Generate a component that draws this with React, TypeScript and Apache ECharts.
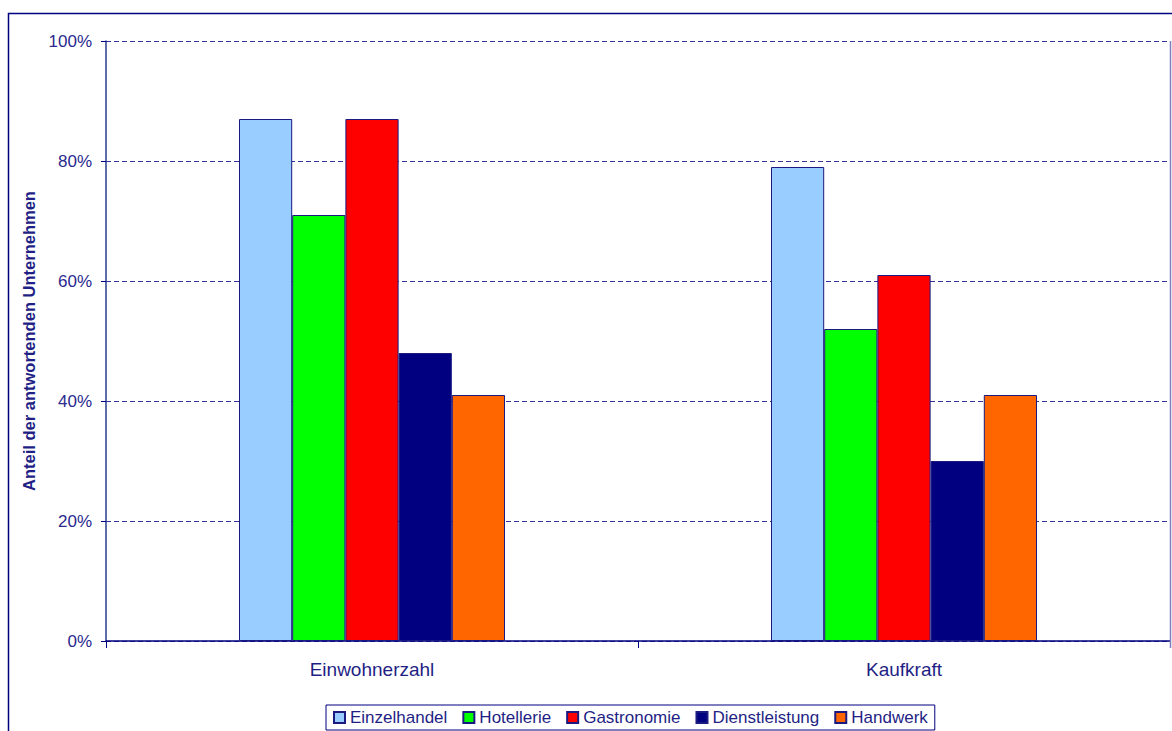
import React, { useEffect, useRef } from "react";
import * as echarts from "echarts";

// Survey: share of responding businesses per sector, by factor
const categories = ["Einwohnerzahl", "Kaufkraft"];
const sectors = ["Einzelhandel", "Hotellerie", "Gastronomie", "Dienstleistung", "Handwerk"];
const einzelhandel = [87, 79];
const hotellerie = [71, 52];
const gastronomie = [87, 61];
const dienstleistung = [48, 30];
const handwerk = [41, 41];
const sectorColors = ["#99CCFF", "#00FF00", "#FF0000", "#000080", "#FF6600"];
const yTicks = [0, 20, 40, 60, 80, 100];

const NAVY = "#000080";
const TEXT = "#1f1f85";
const FONT = "'Liberation Sans', Arial, Helvetica, sans-serif";

export default function App() {
  const ref = useRef<HTMLDivElement>(null);

  useEffect(() => {
    if (!ref.current) return;
    const chart = echarts.init(ref.current, undefined, { renderer: "svg" });
    const values = [einzelhandel, hotellerie, gastronomie, dienstleistung, handwerk];

    chart.setOption({
      animation: false,
      backgroundColor: "#ffffff",
      textStyle: { fontFamily: FONT },
      grid: { left: 106, right: 2, top: 41, bottom: 90, containLabel: false },
      legend: {
        data: sectors,
        left: 326,
        top: 705,
        orient: "horizontal",
        icon: "rect",
        itemWidth: 11,
        itemHeight: 11,
        itemGap: 15,
        padding: [4, 7, 4, 7],
        borderColor: NAVY,
        borderWidth: 1,
        textStyle: { color: TEXT, fontSize: 17, fontFamily: FONT },
      },
      xAxis: {
        type: "category",
        data: categories,
        axisLine: { show: true, lineStyle: { color: NAVY, width: 1.5 } },
        axisTick: { show: true, alignWithLabel: false, length: 7, lineStyle: { color: NAVY } },
        axisLabel: { color: TEXT, fontSize: 19, margin: 19, fontFamily: FONT },
        splitLine: { show: false },
      },
      yAxis: {
        type: "value",
        min: 0,
        max: 100,
        interval: 20,
        name: "Anteil der antwortenden Unternehmen",
        nameLocation: "middle",
        nameRotate: 90,
        nameGap: 59,
        nameTextStyle: { color: TEXT, fontSize: 16.5, fontWeight: "bold", fontFamily: FONT },
        axisLine: { show: true, lineStyle: { color: "#2b3a8c", width: 1.5 } },
        axisTick: { show: true, length: 5, lineStyle: { color: NAVY } },
        axisLabel: {
          color: "#2a2a8f",
          fontSize: 17,
          margin: 14,
          fontFamily: FONT,
          formatter: (v: number) => (yTicks.includes(v) ? `${v}%` : ""),
        },
        splitLine: { show: true, lineStyle: { color: "#333399", width: 1, type: [5, 3] } },
      },
      series: sectors.map((name, i) => ({
        name,
        type: "bar",
        data: values[i],
        barGap: "0%",
        barCategoryGap: "50%",
        itemStyle: { color: sectorColors[i], borderColor: "#1a1a80", borderWidth: 1 },
      })),
      graphic: [
        // outer chart frame
        {
          type: "rect",
          shape: { x: 8.5, y: 13.5, width: 1300, height: 900 },
          style: { fill: "none", stroke: NAVY, lineWidth: 1.5 },
          silent: true,
          z: 100,
        },
        // right edge of plot area
        {
          type: "line",
          shape: { x1: 1170.5, y1: 41, x2: 1170.5, y2: 648 },
          style: { stroke: "#7f7fbf", lineWidth: 1.5 },
          silent: true,
          z: 100,
        },
      ],
    });

    return () => chart.dispose();
  }, []);

  return (
    <div
      ref={ref}
      style={{ position: "fixed", left: 0, top: 0, width: 1172, height: 731, background: "#fff" }}
    />
  );
}
